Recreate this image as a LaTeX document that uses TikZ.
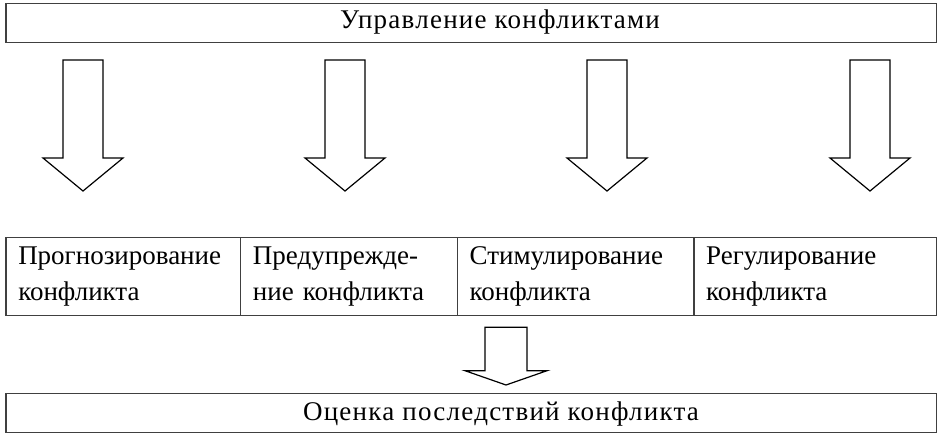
\documentclass[tikz,border=0pt]{standalone}
\usepackage{fontspec}
\setmainfont{Liberation Serif}
\begin{document}
\begin{tikzpicture}[x=1pt,y=-1pt,
  boxline/.style={draw=black!75, line width=1.2pt},
  cell/.style={boxline, anchor=north west, minimum height=78.3pt, inner xsep=12pt, inner ysep=0pt, align=left, font=\fontsize{27}{36.7}\selectfont},
  bar/.style={boxline, anchor=north west, minimum height=39pt, inner sep=0pt},
  bartext/.style={anchor=base, inner sep=0pt, font=\fontsize{27}{31}\selectfont\addfontfeatures{LetterSpace=4.6}},
  blockarrow/.style={draw=black, line width=1.2pt, line join=miter}]
\useasboundingbox (0,0) rectangle (945,441);
% top box
\node[bar, minimum width=930.4pt] (top) at (5.3,3.3) {};
\node[bartext] (toptxt) at (500,29) {Управление конфликтами};
% cells
\node[cell, minimum width=234.7pt, text width=210pt] (c1) at (5.3,236.7) {Прогнозирование\\конфликта};
\node[cell, minimum width=216.7pt, text width=192pt] (c2) at (240,236.7) {Предупрежде-\\ние конфликта};
\node[cell, minimum width=236.6pt, text width=212pt] (c3) at (456.7,236.7) {Стимулирование\\конфликта};
\node[cell, minimum width=242.4pt, text width=218pt] (c4) at (693.3,236.7) {Регулирование\\конфликта};
% bottom box
\node[bar, minimum width=930.4pt] (bot) at (5.3,392.7) {};
\node[bartext] (bottxt) at (501,420) {Оценка последствий конфликта};
% big arrows
\foreach \cx/\nm in {83/a1,345/a2,607/a3,870/a4}{
  \coordinate (\nm) at (\cx,60);
  \draw[blockarrow] (\cx-20,60) -- (\cx+20,60) -- (\cx+20,158) -- (\cx+40,158)
    -- (\cx,191) -- (\cx-40,158) -- (\cx-20,158) -- cycle;
}
% small arrow
\coordinate (a5) at (506,327.3);
\draw[blockarrow] (485,327.3) -- (527,327.3) -- (527,370.7) -- (547,370.7)
  -- (506,385) -- (465,370.7) -- (485,370.7) -- cycle;
\end{tikzpicture}
\end{document}
